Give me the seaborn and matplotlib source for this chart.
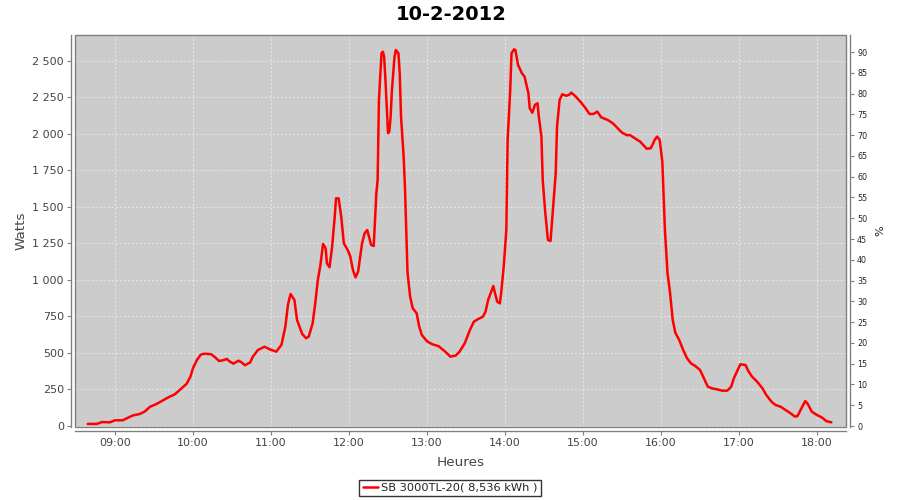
import matplotlib
matplotlib.use("Agg")
import matplotlib.pyplot as plt
from matplotlib.patches import Rectangle
from matplotlib.ticker import FuncFormatter
import seaborn as sns
import pandas as pd

title = "10-2-2012"
series_name = "SB 3000TL-20( 8,536 kWh )"

times = [
    "08:39", "08:46", "08:50", "08:56", "09:00", "09:06", "09:10", "09:14", "09:19", "09:23",
    "09:27", "09:32", "09:36", "09:41", "09:46", "09:51", "09:55", "09:58", "10:00", "10:03",
    "10:06", "10:09", "10:14", "10:17", "10:20", "10:23", "10:26", "10:28", "10:31", "10:35",
    "10:37", "10:40", "10:44", "10:46", "10:50", "10:55", "10:59", "11:04", "11:08", "11:11",
    "11:13", "11:15", "11:18", "11:20", "11:24", "11:27", "11:29", "11:32", "11:34", "11:36",
    "11:38", "11:40", "11:42", "11:43", "11:45", "11:47", "11:49", "11:50", "11:52", "11:54",
    "11:56", "11:59", "12:01", "12:03", "12:05", "12:07", "12:10", "12:12", "12:14", "12:15",
    "12:17", "12:19", "12:20", "12:21", "12:22", "12:23", "12:25", "12:26", "12:27", "12:28",
    "12:30", "12:31", "12:32", "12:33", "12:35", "12:36", "12:38", "12:39", "12:40", "12:42",
    "12:43", "12:44", "12:45", "12:47", "12:49", "12:52", "12:54", "12:56", "13:00", "13:04",
    "13:09", "13:14", "13:18", "13:22", "13:25", "13:29", "13:33", "13:36", "13:39", "13:43",
    "13:45", "13:47", "13:51", "13:52", "13:54", "13:56", "13:57", "13:59", "14:01", "14:02",
    "14:04", "14:05", "14:07", "14:08", "14:10", "14:13", "14:15", "14:18", "14:19", "14:21",
    "14:23", "14:25", "14:26", "14:28", "14:29", "14:31", "14:33", "14:35", "14:37", "14:39",
    "14:40", "14:42", "14:44", "14:47", "14:49", "14:51", "14:54", "14:58", "15:02", "15:05",
    "15:08", "15:11", "15:14", "15:19", "15:23", "15:26", "15:30", "15:34", "15:36", "15:40",
    "15:44", "15:47", "15:49", "15:52", "15:54", "15:55", "15:57", "15:59", "16:01", "16:03",
    "16:05", "16:07", "16:09", "16:11", "16:14", "16:15", "16:17", "16:20", "16:23", "16:26",
    "16:30", "16:33", "16:36", "16:39", "16:43", "16:47", "16:51", "16:54", "16:56", "16:59",
    "17:01", "17:05", "17:07", "17:10", "17:14", "17:18", "17:21", "17:25", "17:28", "17:32",
    "17:35", "17:39", "17:43", "17:45", "17:48", "17:51", "17:53", "17:56", "18:00", "18:04",
    "18:07", "18:11",
]

watts = [
    14, 14, 27, 25, 39, 39, 57, 73, 82, 100,
    132, 151, 171, 196, 217, 256, 288, 338, 397, 452,
    489, 495, 491, 470, 445, 450, 459, 443, 427, 447,
    438, 416, 436, 475, 521, 543, 525, 509, 555, 680,
    829, 904, 863, 726, 630, 601, 612, 703, 840, 1000,
    1103, 1247, 1217, 1114, 1087, 1228, 1434, 1559, 1559, 1434,
    1251, 1205, 1160, 1068, 1018, 1057, 1251, 1320, 1342, 1308,
    1240, 1233, 1411, 1594, 1685, 2233, 2553, 2564, 2530, 2370,
    2005, 2016, 2119, 2301, 2530, 2575, 2553, 2416, 2119, 1845,
    1640, 1350, 1050, 886, 806, 772, 680, 623, 580, 560,
    546, 509, 475, 482, 509, 566, 658, 714, 731, 749,
    783, 863, 959, 920, 851, 840, 909, 1091, 1342, 1959,
    2301, 2553, 2580, 2575, 2473, 2416, 2393, 2279, 2176, 2146,
    2199, 2210, 2119, 1982, 1685, 1457, 1274, 1267, 1502, 1731,
    2050, 2233, 2272, 2262, 2267, 2283, 2260, 2221, 2176, 2137,
    2137, 2153, 2114, 2096, 2073, 2046, 2009, 1991, 1993, 1970,
    1947, 1918, 1899, 1902, 1936, 1959, 1982, 1959, 1810, 1342,
    1046, 909, 726, 639, 589, 566, 521, 464, 429, 413,
    384, 326, 269, 258, 251, 242, 242, 269, 326, 384,
    422, 418, 379, 338, 303, 258, 212, 166, 144, 132,
    114, 91, 64, 68, 121, 171, 149, 98, 75, 57,
    34, 25,
]

hour_ticks = [9, 10, 11, 12, 13, 14, 15, 16, 17, 18]
watt_ticks = [0, 250, 500, 750, 1000, 1250, 1500, 1750, 2000, 2250, 2500]
pct_ticks = list(range(0, 95, 5))

hours = [int(t[:2]) + int(t[3:]) / 60.0 for t in times]
df = pd.DataFrame({"Heures": hours, "Watts": watts, "serie": series_name})

sns.set_theme(style="white")
plt.rcParams["font.family"] = ["DejaVu Sans"]

fig = plt.figure(figsize=(9, 5), dpi=100)
ax = fig.add_axes([75 / 900, 1 - 427 / 500, (846 - 75) / 900, (427 - 35) / 500])
ax.set_facecolor("#cccccc")

sns.lineplot(data=df, x="Heures", y="Watts", hue="serie", palette=["#ff0000"],
             linewidth=1.8, ax=ax, legend=False, sort=False, estimator=None)

ax.set_xlim(8 + 29.2 / 60, 18 + 22.3 / 60)
ax.set_ylim(-7, 2678)
ax.set_xticks(hour_ticks)
ax.xaxis.set_major_formatter(FuncFormatter(lambda v, p: f"{int(round(v)):02d}:00"))
ax.set_yticks(watt_ticks)
ax.yaxis.set_major_formatter(FuncFormatter(lambda v, p: f"{v:,.0f}".replace(",", " ")))

ax.grid(True, color="#f2f2f2", linestyle=(0, (2.9, 2.9)), linewidth=0.5)
ax.set_axisbelow(True)

grey = "#808080"
for s in ["left", "bottom"]:
    ax.spines[s].set_position(("outward", 3))
    ax.spines[s].set_color(grey)
    ax.spines[s].set_linewidth(1)
for s in ["top", "right"]:
    ax.spines[s].set_visible(False)
ax.add_patch(Rectangle((0, 0), 1, 1, transform=ax.transAxes, fill=False,
                       edgecolor=grey, linewidth=1, clip_on=False, zorder=5))

ax.tick_params(axis="both", which="major", direction="out", length=3, width=0.8,
               color=grey, labelsize=8, labelcolor="#444444", pad=2,
               bottom=True, left=True)
ax.set_xlabel("Heures", fontsize=9.7, color="#444444", labelpad=6)
ax.set_ylabel("Watts", fontsize=9.7, color="#444444", labelpad=3)

ax2 = ax.twinx()
ax2.set_ylim(-0.24, 94.1)
ax2.set_yticks(pct_ticks)
ax2.yaxis.set_major_formatter(FuncFormatter(lambda v, p: f"{int(round(v))}"))
for s in ["left", "bottom", "top"]:
    ax2.spines[s].set_visible(False)
ax2.spines["right"].set_position(("outward", 3))
ax2.spines["right"].set_color(grey)
ax2.spines["right"].set_linewidth(1)
ax2.tick_params(axis="y", direction="out", length=3, width=0.8, color=grey,
                labelsize=5.8, labelcolor="#222222", pad=2, right=True)
ax2.set_ylabel("%", fontsize=8, color="#222222", labelpad=6)
ax2.grid(False)

fig.text(451 / 900, 1 - 14.5 / 500, title, ha="center", va="center",
         fontsize=14, fontweight="bold", color="black")

handle = plt.Line2D([], [], color="#ff0000", linewidth=1.8)
leg = fig.legend([handle], [series_name], loc="center",
                 bbox_to_anchor=(450 / 900, 1 - 488 / 500), frameon=True,
                 fancybox=False, fontsize=8.2, handlelength=1.3, handletextpad=0.3,
                 borderpad=0.3, borderaxespad=0)
leg.get_frame().set_edgecolor("black")
leg.get_frame().set_linewidth(1)
for t in leg.get_texts():
    t.set_color("#222222")

fig.savefig("out.png", dpi=100, facecolor="white")
